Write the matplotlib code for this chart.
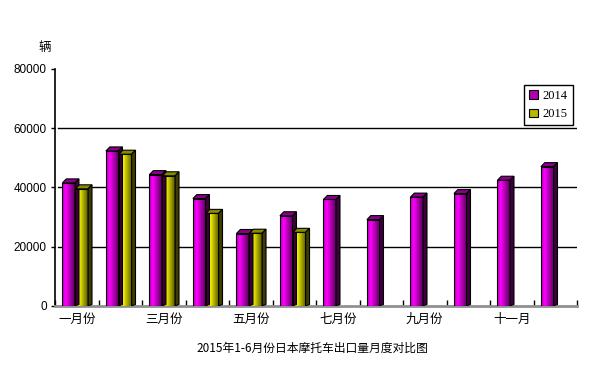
import numpy as np
import matplotlib
matplotlib.use("Agg")
import matplotlib.pyplot as plt
from matplotlib.colors import LinearSegmentedColormap
from matplotlib.patches import Polygon, Rectangle, Patch

months = ["一月份", "二月份", "三月份", "四月份", "五月份", "六月份",
          "七月份", "八月份", "九月份", "十月份", "十一月", "十二月"]
sales_2014 = [41500, 52300, 44300, 36200, 24400, 30400, 35900, 29100, 36700, 37900, 42400, 47000]
sales_2015 = [39500, 51200, 43900, 31200, 24500, 24800]
y_ticks = [0, 20000, 40000, 60000, 80000]
series_names = ["2014", "2015"]

cjk = ['Noto Sans CJK SC', 'DejaVu Sans']

fig = plt.figure(figsize=(6.1, 3.74), dpi=100)
ax = fig.add_axes([0.0902, 0.1826, 0.8558, 0.633])

cm14 = LinearSegmentedColormap.from_list("m", [(0, "#b000b0"), (0.28, "#ff00ff"), (1.0, "#580058")])
cm15 = LinearSegmentedColormap.from_list("y", [(0, "#b8b800"), (0.28, "#ffff00"), (1.0, "#5a5a00")])
grad = np.linspace(0, 1, 64).reshape(1, -1)

bw = 0.29
dx = 0.09
dy = 1350

def bar3d(x0, h, cmap, topc, sidec):
    ax.imshow(grad, cmap=cmap, aspect='auto', extent=[x0, x0 + bw, 0, h],
              zorder=3, interpolation='bilinear')
    ax.add_patch(Rectangle((x0, 0), bw, h, fill=False, ec='black', lw=0.8, zorder=4))
    ax.add_patch(Polygon([(x0, h), (x0 + dx, h + dy), (x0 + bw + dx, h + dy), (x0 + bw, h)],
                         closed=True, fc=topc, ec='black', lw=0.8, zorder=4))
    ax.add_patch(Polygon([(x0 + bw, 0), (x0 + bw + dx, dy * 0.3), (x0 + bw + dx, h + dy), (x0 + bw, h)],
                         closed=True, fc=sidec, ec='black', lw=0.8, zorder=4))

for i, v in enumerate(sales_2014):
    bar3d(i + 0.17, v, cm14, "#8a008a", "#3c003c")
for i, v in enumerate(sales_2015):
    bar3d(i + 0.47, v, cm15, "#8a8a00", "#3c3c00")

for g in y_ticks[1:-1]:
    ax.plot([0.07, 12], [g, g], color='black', lw=1.0, zorder=1)

ax.set_xlim(0, 12)
ax.set_ylim(0, 80000)

for s in ['top', 'right']:
    ax.spines[s].set_visible(False)
ax.spines['left'].set_linewidth(1.2)
ax.spines['bottom'].set_color('#909090')
ax.spines['bottom'].set_linewidth(2.0)

ax.set_yticks(y_ticks)
ax.set_yticklabels([str(t) for t in y_ticks], fontsize=8.5, family='Liberation Sans')
ax.tick_params(axis='y', length=3, width=1, pad=3)

ax.set_xticks(np.arange(0, 13))
ax.set_xticklabels([])
ax.tick_params(axis='x', which='major', length=4, width=1, direction='in')
ax.set_xticks(np.arange(0, 12, 2) + 0.5, minor=True)
ax.set_xticklabels(months[::2], minor=True, fontsize=9, family=cjk)
ax.tick_params(axis='x', which='minor', length=0, pad=5)

fig.text(0.074, 0.874, "辆", fontsize=9, family=cjk, ha='center', va='center')
fig.text(0.512, 0.07, "2015年1-6月份日本摩托车出口量月度对比图", fontsize=8.5, family=cjk,
         ha='center', va='center')

handles = [Patch(fc="#b000b0", ec='black', lw=0.8), Patch(fc="#b8b800", ec='black', lw=0.8)]
leg = ax.legend(handles, series_names, loc='upper right', bbox_to_anchor=(0.992, 0.932),
                borderaxespad=0, fancybox=False, framealpha=1, edgecolor='black',
                prop={'family': 'Liberation Serif', 'size': 9},
                handlelength=0.7, handleheight=0.7, handletextpad=0.4,
                borderpad=0.4, labelspacing=0.5)
leg.get_frame().set_linewidth(1.0)
leg.set_zorder(10)

fig.savefig("out.png", dpi=100)
